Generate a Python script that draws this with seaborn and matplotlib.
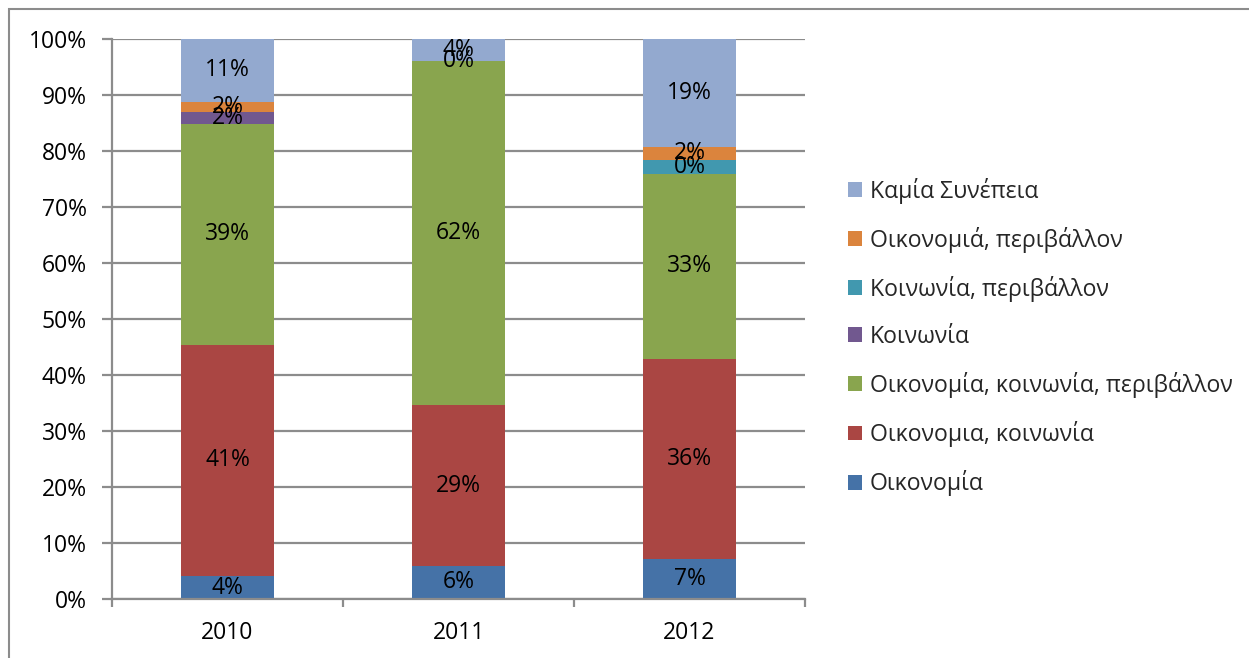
import matplotlib
matplotlib.use("Agg")
import matplotlib.pyplot as plt
import matplotlib.patches as mpatches
from matplotlib.ticker import FuncFormatter
import seaborn as sns
import pandas as pd
import numpy as np

years = ["2010", "2011", "2012"]
series_names = [
    "Οικονομία",
    "Οικονομια, κοινωνία",
    "Οικονομία, κοινωνία, περιβάλλον",
    "Κοινωνία",
    "Κοινωνία, περιβάλλον",
    "Οικονομιά, περιβάλλον",
    "Καμία Συνέπεια",
]
oikonomia = [4.1, 5.9, 7.1]
oik_koin = [41.3, 28.7, 35.8]
oik_koin_per = [39.4, 61.5, 33.0]
koinonia = [2.1, 0.0, 0.0]
koin_per = [0.0, 0.0, 2.5]
oik_per = [1.9, 0.0, 2.4]
kamia = [11.2, 3.9, 19.2]

lab_oikonomia = ["4%", "6%", "7%"]
lab_oik_koin = ["41%", "29%", "36%"]
lab_oik_koin_per = ["39%", "62%", "33%"]
lab_koinonia = ["2%", "0%", None]
lab_koin_per = [None, None, "0%"]
lab_oik_per = ["2%", None, "2%"]
lab_kamia = ["11%", "4%", "19%"]

values = [oikonomia, oik_koin, oik_koin_per, koinonia, koin_per, oik_per, kamia]
labels = [lab_oikonomia, lab_oik_koin, lab_oik_koin_per, lab_koinonia,
          lab_koin_per, lab_oik_per, lab_kamia]
colors = ["#4572A7", "#AA4643", "#89A54E", "#71588F", "#4198AF", "#DB843D", "#93A9CF"]

sns.set_theme(style="white")
FONT = ["Open Sans", "DejaVu Sans"]
plt.rcParams["font.family"] = FONT
FS = 16.5
LFS = 16.6
GRAY = "#8c8c8c"

fig = plt.figure(figsize=(12.49, 6.58), dpi=100)
ax = fig.add_axes([112/1249, 59/658, 693/1249, 560/658])

bottom = np.zeros(len(years))
handles = []
for name, vals, labs, col in zip(series_names, values, labels, colors):
    df = pd.DataFrame({"year": years, "value": vals})
    sns.barplot(data=df, x="year", y="value", order=years, color=col,
                width=0.4, bottom=bottom.copy(), ax=ax, saturation=1,
                edgecolor="none", linewidth=0)
    for i, (v, lab) in enumerate(zip(vals, labs)):
        if lab is not None:
            ax.text(i, bottom[i] + v / 2, lab, ha="center", va="center",
                    fontsize=FS, color="black", zorder=5)
    bottom = bottom + np.array(vals)
    handles.append(mpatches.Patch(facecolor=col, edgecolor="none", label=name))

ax.set_xlim(-0.5, 2.5)
ax.set_ylim(0, 100)
ax.set_yticks(np.arange(0, 101, 10))
ax.yaxis.set_major_formatter(FuncFormatter(lambda v, p: f"{int(v)}%"))
ax.set_xticks([0, 1, 2])
ax.set_xticklabels(years)
ax.set_xticks([-0.5, 0.5, 1.5, 2.5], minor=True)
ax.set_xlabel("")
ax.set_ylabel("")

ax.grid(axis="y", color=GRAY, linewidth=1.6, zorder=0)
ax.set_axisbelow(True)
for s in ["top", "right"]:
    ax.spines[s].set_visible(False)
for s in ["left", "bottom"]:
    ax.spines[s].set_color(GRAY)
    ax.spines[s].set_linewidth(1.6)

ax.tick_params(axis="y", which="major", left=True, length=7, width=1.6,
               color=GRAY, pad=11, labelsize=FS, labelcolor="black")
ax.tick_params(axis="x", which="major", bottom=False, length=0, pad=16,
               labelsize=FS, labelcolor="black")
ax.tick_params(axis="x", which="minor", bottom=True, length=6, width=1.6,
               color=GRAY)

ax.legend(handles=handles[::-1], loc="center left",
          bbox_to_anchor=(848/1249, 1 - 337/658), bbox_transform=fig.transFigure,
          frameon=False, fontsize=LFS, handlelength=0.62, handleheight=0.62,
          handletextpad=0.33, labelspacing=1.0, borderaxespad=0, borderpad=0)

fig.patches.append(mpatches.Rectangle((9/1249, -0.1), 1.2, 1 - 9/658 + 0.1,
                                      transform=fig.transFigure, fill=False,
                                      edgecolor=GRAY, linewidth=1.5))

fig.savefig("out.png", dpi=100)
